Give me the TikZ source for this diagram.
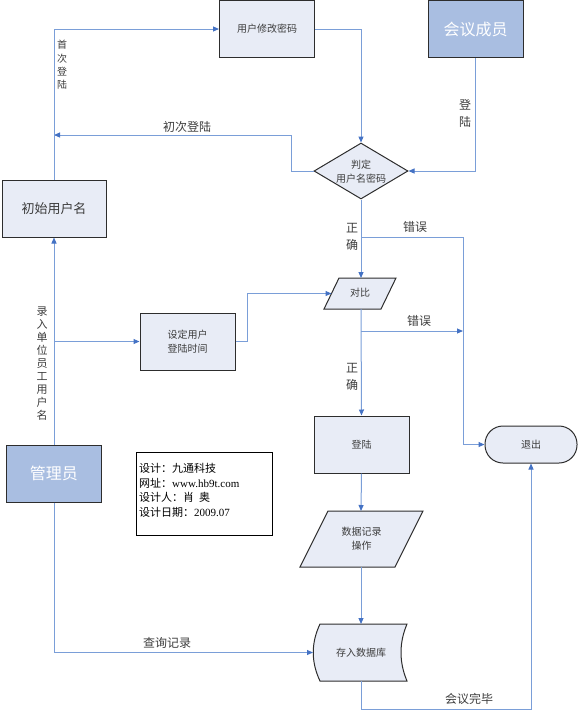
\documentclass[tikz,border=0pt]{standalone}
\usepackage{fontspec}
\setmainfont{Liberation Serif}
\newfontfamily\cjk{Noto Sans CJK SC}
\usetikzlibrary{arrows.meta,shapes.geometric}
\definecolor{linec}{RGB}{122,158,216}
\definecolor{arrc}{RGB}{68,114,196}
\definecolor{boxfill}{RGB}{232,236,246}
\definecolor{darkfill}{RGB}{169,190,225}
\definecolor{boxline}{RGB}{45,45,45}
\definecolor{txt}{RGB}{60,60,60}
\begin{document}
\begin{tikzpicture}[x=1pt,y=-1pt,
  conn/.style={draw=linec, line width=1pt, -{Triangle[length=6pt,width=5pt,color=arrc]}},
  lbox/.style={draw=boxline, line width=1pt, fill=boxfill, minimum width=95pt, minimum height=57pt, inner sep=0pt, font=\cjk\fontsize{10}{14}\selectfont, text=txt, align=center},
  dbox/.style={draw=boxline, line width=1pt, fill=darkfill, minimum width=95pt, minimum height=57pt, inner sep=0pt, font=\cjk\fontsize{16}{18}\selectfont, text=white},
  lab/.style={font=\cjk\fontsize{12}{14}\selectfont, text=txt, inner sep=0pt},
  vlab/.style={text=txt, align=center, inner sep=0pt},
  shp/.style={draw=boxline, line width=1pt, fill=boxfill},
  intext/.style={font=\cjk\fontsize{10}{14}\selectfont, text=txt, align=center, inner sep=0pt}
]
\useasboundingbox (0,0) rectangle (578,710);

% rectangles
\node[lbox] (umod) at (267,29) {用户修改密码};
\node[dbox] (member) at (475.5,29) {会议成员};
\node[lbox, minimum width=104pt, font=\cjk\fontsize{13}{15}\selectfont] (init) at (54,208.5) {初始用户名};
\node[lbox] (setup) at (187.5,341.5) {设定用户\\登陆时间};
\node[dbox] (admin) at (54,473.5) {管理员};
\node[lbox] (login) at (361.5,444.5) {登陆};
\node[lbox, minimum width=92pt, minimum height=37pt, rounded corners=18pt] (exit) at (531,444.5) {退出};

% diamond
\node[diamond, shp, minimum width=94pt, minimum height=56pt, inner sep=0pt] (judge) at (361,171) {};
\node[intext] (judgetext) at (361,172) {判定\\用户名密码};

% parallelogram 对比
\draw[shp] (339,278) -- (396,278) -- (381,309) -- (324,309) -- cycle;
\node[intext] (compare) at (360,293) {对比};
\coordinate (cN) at (361,278);
\coordinate (cS) at (361,309);
\coordinate (cW) at (331.5,293.5);

% parallelogram 数据记录操作
\draw[shp] (328,511) -- (423,511) -- (395,567) -- (300,567) -- cycle;
\node[intext] (datarec) at (361.5,539) {数据记录\\操作};
\coordinate (dN) at (361,511);
\coordinate (dS) at (361,567);

% stored data 存入数据库
\draw[shp] (320,624) -- (407,624) .. controls (399,643) and (399,662) .. (407,681)
  -- (320,681) .. controls (311,662) and (311,643) .. (320,624) -- cycle;
\node[intext] (store) at (361,652.5) {存入数据库};
\coordinate (sN) at (361,624);
\coordinate (sS) at (361,681);
\coordinate (sW) at (313,652.5);

% note
\node[draw=black, line width=1pt, fill=white, minimum width=136pt, minimum height=83pt, inner sep=0pt] (note) at (204,493.5) {};
\node[anchor=north west, align=left, font=\fontsize{11}{14.5}\selectfont, inner sep=0pt, text=black] (notetext) at (139,463.5)
 {{\cjk 设计：九通科技}\\{\cjk 网址：}www.hb9t.com\\{\cjk 设计人：肖\ \ 奥}\\{\cjk 设计日期：}2009.07};

% connectors
\draw[conn] (umod.east) -| (judge.north);
\draw[conn] (member.south) |- (judge.east);
\coordinate (jl) at (291,135);
\draw[conn] (judge.west) -| (jl) -- (jl -| init.north);
\draw[conn] (init.north) |- (umod.west);
\draw[conn] (admin.north) -- (init.south);
\draw[conn] (judge.south) -- (cN);
\coordinate (e1) at (361,237);
\coordinate (ex) at (463,237);
\draw[conn] (e1) -- (ex) |- (exit.west);
\draw[conn] (setup.west -| admin.north) -- (setup.west);
\draw[conn] (setup.east) -- ++(12,0) |- (cW);
\draw[conn] (cS) -- (login.north);
\coordinate (e2) at (361,331);
\draw[conn] (e2) -- (e2 -| ex);
\draw[conn] (login.south) -- (dN);
\draw[conn] (dS) -- (sN);
\draw[conn] (admin.south) |- (sW);
\coordinate (bot) at (361,709);
\draw[conn] (sS) -- (bot) -| (exit.south);

% labels
\node[vlab, font=\cjk\fontsize{10}{13.3}\selectfont] (lfirst) at (62,65) {首\\次\\登\\陆};
\node[lab] (lfirst2) at (187,127) {初次登陆};
\node[vlab, font=\cjk\fontsize{12}{17}\selectfont] (llogin) at (465,113.5) {登\\陆};
\node[vlab, font=\cjk\fontsize{12}{17}\selectfont] (lok1) at (352,236.5) {正\\确};
\node[lab] (lerr1) at (415,227) {错误};
\node[lab] (lerr2) at (419,321) {错误};
\node[vlab, font=\cjk\fontsize{12}{17}\selectfont] (lok2) at (352,376.5) {正\\确};
\node[vlab, font=\cjk\fontsize{11}{12.9}\selectfont] (lenter) at (42,363.5) {录\\入\\单\\位\\员\\工\\用\\户\\名};
\node[lab] (lquery) at (167,643) {查询记录};
\node[lab] (lend) at (469,699) {会议完毕};
\end{tikzpicture}
\end{document}
